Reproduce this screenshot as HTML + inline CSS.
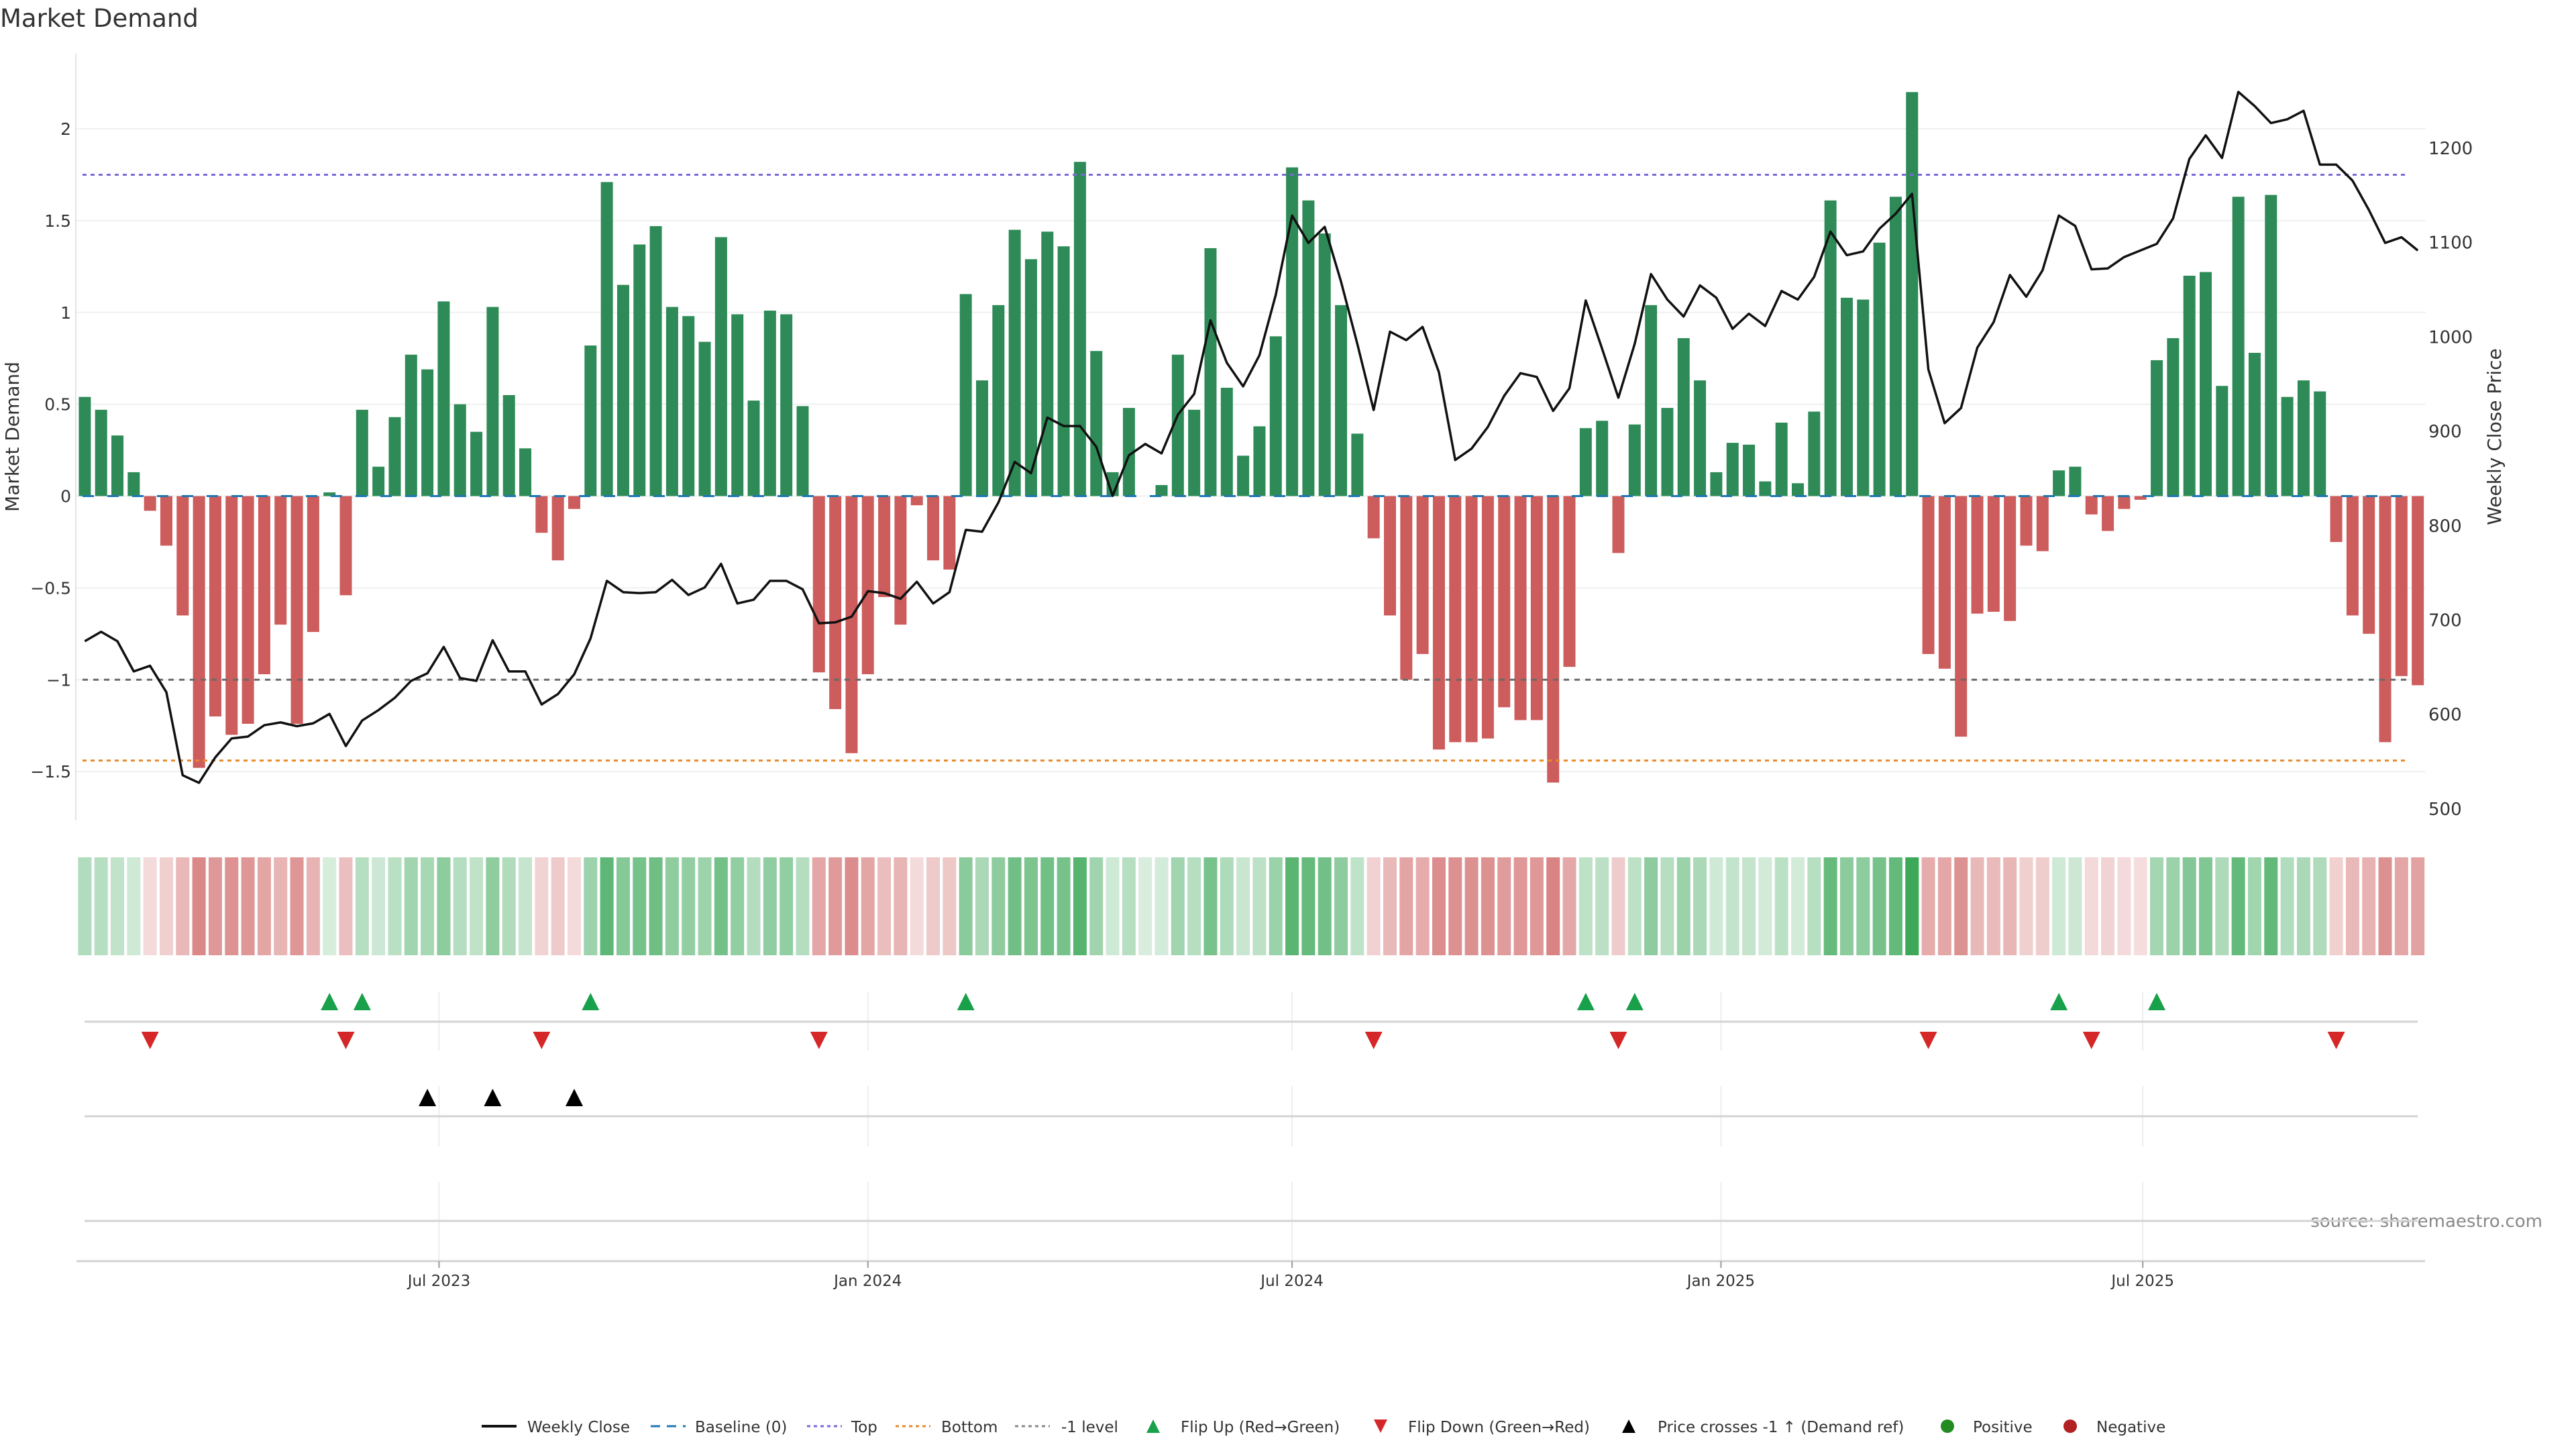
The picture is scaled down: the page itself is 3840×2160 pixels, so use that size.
<!DOCTYPE html>
<html><head><meta charset="utf-8"><title>Market Demand</title>
<style>
html,body{margin:0;padding:0;background:#fff;}
svg{display:block;font-family:"DejaVu Sans","Liberation Sans",sans-serif;}
</style></head>
<body>
<svg id="chart" width="3840" height="2160" viewBox="0 0 3840 2160" xmlns="http://www.w3.org/2000/svg">
<text x="0" y="40" font-size="37" fill="#333">Market Demand</text>
<text transform="translate(28,651) rotate(-90)" text-anchor="middle" font-size="28" fill="#333">Market Demand</text>
<text transform="translate(3728,651) rotate(-90)" text-anchor="middle" font-size="28" fill="#333">Weekly Close Price</text>
<text x="3790" y="1829" text-anchor="end" font-size="26" fill="#888">source: sharemaestro.com</text>
</svg>
<script>
const demand = [0.54,0.47,0.33,0.13,-0.08,-0.27,-0.65,-1.48,-1.20,-1.30,-1.24,-0.97,-0.70,-1.24,-0.74,0.02,-0.54,0.47,0.16,0.43,0.77,0.69,1.06,0.50,0.35,1.03,0.55,0.26,-0.20,-0.35,-0.07,0.82,1.71,1.15,1.37,1.47,1.03,0.98,0.84,1.41,0.99,0.52,1.01,0.99,0.49,-0.96,-1.16,-1.40,-0.97,-0.55,-0.70,-0.05,-0.35,-0.40,1.10,0.63,1.04,1.45,1.29,1.44,1.36,1.82,0.79,0.13,0.48,0,0.06,0.77,0.47,1.35,0.59,0.22,0.38,0.87,1.79,1.61,1.43,1.04,0.34,-0.23,-0.65,-1.00,-0.86,-1.38,-1.34,-1.34,-1.32,-1.15,-1.22,-1.22,-1.56,-0.93,0.37,0.41,-0.31,0.39,1.04,0.48,0.86,0.63,0.13,0.29,0.28,0.08,0.40,0.07,0.46,1.61,1.08,1.07,1.38,1.63,2.20,-0.86,-0.94,-1.31,-0.64,-0.63,-0.68,-0.27,-0.30,0.14,0.16,-0.10,-0.19,-0.07,-0.02,0.74,0.86,1.20,1.22,0.60,1.63,0.78,1.64,0.54,0.63,0.57,-0.25,-0.65,-0.75,-1.34,-0.98,-1.03];
const price = [677,687,677,645,651,623,535,527,554,574,576,588,591,587,590,600,566,593,604,617,635,643,671,638,635,678,645,645,610,621,642,680,741,729,728,729,742,726,734,759,717,721,741,741,732,696,697,703,730,728,722,740,717,729,795,793,824,867,855,914,905,905,883,831,874,886,876,917,939,1017,972,947,980,1044,1128,1099,1116,1058,992,922,1005,996,1010,962,869,881,904,937,961,957,921,945,1038,987,935,992,1066,1039,1021,1054,1041,1008,1024,1011,1048,1039,1063,1111,1086,1090,1114,1130,1151,965,908,924,988,1015,1065,1042,1070,1128,1117,1071,1072,1084,1091,1098,1125,1188,1213,1189,1259,1244,1226,1230,1239,1182,1182,1165,1134,1099,1105,1091];
const leftTicks = [2,1.5,1,0.5,0,-0.5,-1,-1.5];
const leftTickLabels = ["2","1.5","1","0.5","0","−0.5","−1","−1.5"];
const rightTicks = [1200,1100,1000,900,800,700,600,500];
const xTickLabels = ["Jul 2023","Jan 2024","Jul 2024","Jan 2025","Jul 2025"];
const xTickDates = ["2023-07-01","2024-01-01","2024-07-01","2025-01-01","2025-07-01"];
const startDate = "2023-01-30";
const topLevel = 1.75, bottomLevel = -1.44, refLevel = -1;

const NS="http://www.w3.org/2000/svg";
const svg=document.getElementById('chart');
function mk(tag,attrs,parent){const e=document.createElementNS(NS,tag);for(const k in attrs)e.setAttribute(k,attrs[k]);(parent||svg).appendChild(e);return e;}
const PL=113, PR=3616, PT=80, PB=1223;
const yL=v=>739.5-273.75*v;
const yR=p=>220+(1200-p)*1.407;
const xi=i=>126.4+i*24.32;
const DAY=86400000, t0=Date.parse(startDate);
const xd=s=>126.4+(Date.parse(s)-t0)/DAY*3.4743;

leftTicks.forEach((v,k)=>{
  const g=mk('line',{x1:PL,x2:PR,y1:yL(v),y2:yL(v),stroke:'#eef0f2','stroke-width':2});
  
  
  const t=mk('text',{x:106,y:yL(v)+9,'text-anchor':'end','font-size':25,fill:'#333'});
  t.textContent=leftTickLabels[k];
  
  
});
rightTicks.forEach(p=>{
  const t=mk('text',{x:3620,y:yR(p)+10,'font-size':26,fill:'#333'});
  t.textContent=String(p);
  
  
});
const ax=mk('line',{x1:PL,x2:PL,y1:PT,y2:PB,stroke:'#e3e3e3','stroke-width':2});



demand.forEach((v,i)=>{
  const y0=yL(0), y1=yL(v);
  const b=mk('rect',{x:xi(i)-9,y:Math.min(y0,y1),width:18,height:Math.abs(y1-y0),fill:v>=0?'#2e8b57':'#cd5c5c'});
  
  
});
let l=mk('line',{x1:PL+10,x2:3590,y1:yL(0),y2:yL(0),stroke:'#1f77b4','stroke-width':3,'stroke-dasharray':'17 20'});


l=mk('line',{x1:PL+10,x2:3590,y1:yL(topLevel),y2:yL(topLevel),stroke:'#7b68d8','stroke-width':3,'stroke-dasharray':'6 6'});


l=mk('line',{x1:PL+10,x2:3590,y1:yL(bottomLevel),y2:yL(bottomLevel),stroke:'#e8892a','stroke-width':3,'stroke-dasharray':'6 6'});


l=mk('line',{x1:PL+10,x2:3590,y1:yL(refLevel),y2:yL(refLevel),stroke:'#6a6a6a','stroke-width':3,'stroke-dasharray':'8 8'});


const pl=mk('polyline',{points:price.map((p,i)=>xi(i)+','+yR(p)).join(' '),fill:'none',stroke:'#111','stroke-width':3.5,'stroke-linejoin':'round'});



demand.forEach((v,i)=>{
  const f=Math.min(1,0.2+0.36*Math.abs(v));
  const base=v>=0?[58,167,87]:[205,92,92];
  const c=base.map(b=>Math.round(255-(255-b)*f));
  const r=mk('rect',{x:xi(i)-10,y:1278,width:20,height:146,fill:`rgb(${c.join(',')})`});
  
  
});

const panels=[[1479,1566,1523],[1619,1709,1664],[1762,1880,1820]];
panels.forEach(([a,b,g])=>{
  xTickDates.forEach(d=>{
    const v=mk('line',{x1:xd(d),x2:xd(d),y1:a,y2:b,stroke:'#eceeef','stroke-width':2});
    
    
  });
  const h=mk('line',{x1:126,x2:3604,y1:g,y2:g,stroke:'#d3d3d3','stroke-width':3});
  
  
});
function tri(x,y,up,fill,name){
  const s=13;
  const pts=up?`${x},${y-s} ${x-s},${y+s} ${x+s},${y+s}`:`${x},${y+s} ${x-s},${y-s} ${x+s},${y-s}`;
  const t=mk('polygon',{points:pts,fill:fill});
  
  
}
const crossLevelPrice=1200-(yL(refLevel)-220)/1.407;
for(let i=1;i<demand.length;i++){
  if(demand[i-1]<0&&demand[i]>0) tri(xi(i),1493,true,'#18a04a','flip-up-marker');
  if(demand[i-1]>0&&demand[i]<0) tri(xi(i),1551,false,'#d62728','flip-down-marker');
  if(price[i-1]<crossLevelPrice&&price[i]>=crossLevelPrice) tri(xi(i),1636,true,'#000','price-cross-marker');
}
const xa=mk('line',{x1:114,x2:3615,y1:1880,y2:1880,stroke:'#d3d3d3','stroke-width':3});


xTickDates.forEach((d,k)=>{
  const tk=mk('line',{x1:xd(d),x2:xd(d),y1:1880,y2:1890,stroke:'#999','stroke-width':2});
  
  
  const t=mk('text',{x:xd(d),y:1917,'text-anchor':'middle','font-size':23,fill:'#333'});
  t.textContent=xTickLabels[k];
  
  
});

const LY=2126;
const lg=mk('g',{});


function ltext(x,s){const t=mk('text',{x:x,y:LY+9,'font-size':23,fill:'#333'},lg);t.textContent=s;}
function lline(x,col,dash,w){const e=mk('line',{x1:x,x2:x+52,y1:LY,y2:LY,stroke:col,'stroke-width':w||3,'stroke-dasharray':dash||''},lg);}
lline(718,'#111','',4); ltext(786,'Weekly Close');
lline(970,'#1f77b4','14 10'); ltext(1036,'Baseline (0)');
lline(1203,'#7b68d8','5 5'); ltext(1269,'Top');
lline(1335,'#e8892a','5 5'); ltext(1403,'Bottom');
lline(1513,'#888','5 5'); ltext(1582,'-1 level');
function ltri(x,up,col){const s=10;const p=up?`${x},${LY-s} ${x-s},${LY+s} ${x+s},${LY+s}`:`${x},${LY+s} ${x-s},${LY-s} ${x+s},${LY-s}`;const e=mk('polygon',{points:p,fill:col},lg);}
ltri(1719,true,'#18a04a'); ltext(1760,'Flip Up (Red→Green)');
ltri(2058,false,'#d62728'); ltext(2099,'Flip Down (Green→Red)');
ltri(2428,true,'#000'); ltext(2471,'Price crosses -1 ↑ (Demand ref)');
let c=mk('circle',{cx:2903,cy:LY,r:10,fill:'#228b22'},lg);


ltext(2941,'Positive');
c=mk('circle',{cx:3086,cy:LY,r:10,fill:'#b22222'},lg);


ltext(3125,'Negative');
</script>
</body></html>
